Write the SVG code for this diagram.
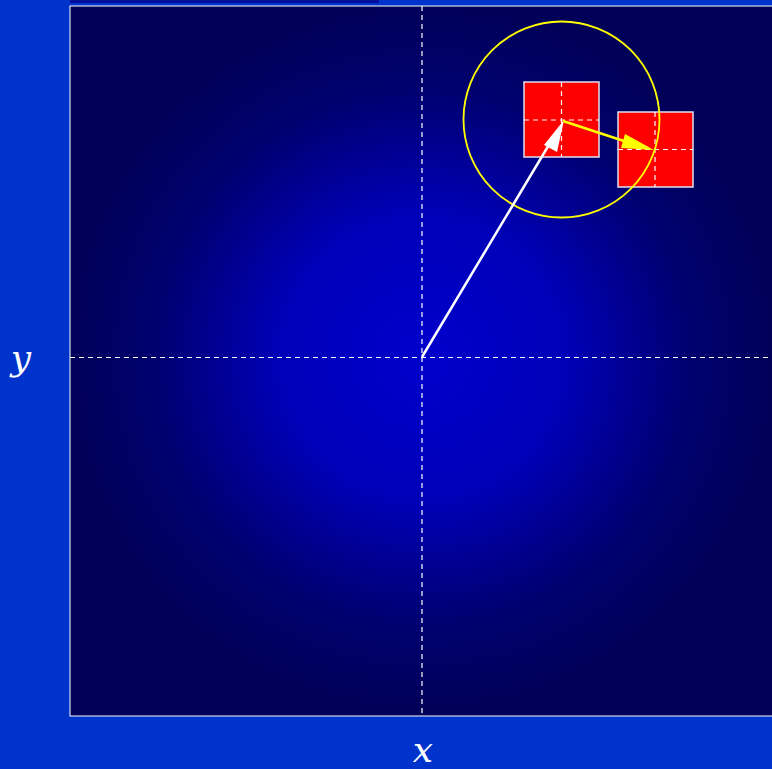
<svg xmlns="http://www.w3.org/2000/svg" width="772" height="769" viewBox="0 0 772 769">
<defs>
<radialGradient id="bg" gradientUnits="userSpaceOnUse" cx="422" cy="357" r="355">
<stop offset="0" stop-color="#0000cc"/>
<stop offset="0.4" stop-color="#0000b8"/>
<stop offset="0.75" stop-color="#000070"/>
<stop offset="1" stop-color="#000058"/>
</radialGradient>
</defs>
<style>
.dash{stroke:#fff;stroke-width:1.2;stroke-dasharray:5,4;fill:none}
.box{fill:#ff0000;stroke:#e0e0f0;stroke-width:1.5}
.lbl{font-family:"DejaVu Serif","Liberation Serif",serif;font-style:italic;font-size:36px;fill:#fff}
</style>
<rect x="0" y="0" width="772" height="769" fill="#0033cc"/>
<rect x="70" y="0" width="309" height="3" fill="#000f99"/>
<rect x="70" y="6" width="710" height="710" fill="url(#bg)" stroke="#fff" stroke-width="1"/>
<g id="axes">
<line class="dash" x1="422" y1="6" x2="422" y2="716"/>
<line class="dash" x1="70" y1="357.5" x2="772" y2="357.5"/>
</g>
<g id="box1">
<rect class="box" x="524" y="82" width="75" height="75"/>
<line class="dash" x1="561.5" y1="82" x2="561.5" y2="157"/>
<line class="dash" x1="524" y1="120" x2="599" y2="120"/>
</g>
<g id="box2">
<rect class="box" x="618" y="112" width="75" height="75"/>
<line class="dash" x1="655" y1="112" x2="655" y2="187"/>
<line class="dash" x1="618" y1="149.5" x2="693" y2="149.5"/>
</g>
<g id="circle"><circle cx="561.5" cy="119.5" r="98" fill="none" stroke="#ffff00" stroke-width="1.8"/></g>
<g id="connectors">
<line x1="422" y1="357" x2="556" y2="133" stroke="#fff" stroke-width="2.5"/>
<path d="M564,120 L544,145 L557,152 z" fill="#fff"/>
<line x1="563" y1="121" x2="630" y2="143" stroke="#ffff00" stroke-width="2.5"/>
<path d="M654,150 L625,134 L621,148 z" fill="#ffff00"/>
</g>
<text class="lbl" x="21" y="370" text-anchor="middle">y</text>
<text class="lbl" x="423" y="762" text-anchor="middle">x</text>
</svg>
